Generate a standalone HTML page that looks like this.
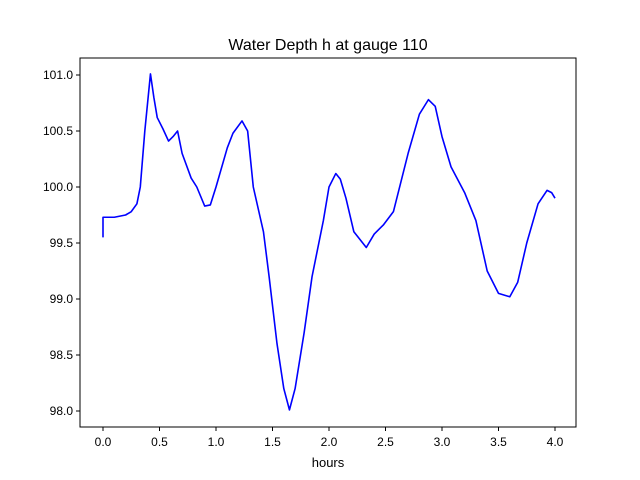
<!DOCTYPE html>
<html><head><meta charset="utf-8"><style>
html,body{margin:0;padding:0;background:#fff;}
svg{display:block;font-family:"Liberation Sans","DejaVu Sans",sans-serif;}
</style></head><body>
<svg id="chart" width="640" height="480">
<rect width="640" height="480" fill="#fff"/>
<text x="328" y="50" text-anchor="middle" font-size="16">Water Depth h at gauge 110</text>
<g id="plot"></g>
<rect x="80" y="58" width="496" height="369" fill="none" stroke="#000" stroke-width="1"/>
<text x="328" y="467" text-anchor="middle" font-size="13">hours</text>
</svg>
<script>
const xs=[0,0,0.1,0.2,0.25,0.3,0.33,0.37,0.42,0.45,0.48,0.53,0.58,0.62,0.66,0.7,0.78,0.83,0.9,0.95,1.0,1.1,1.15,1.23,1.28,1.33,1.42,1.47,1.54,1.6,1.65,1.7,1.78,1.85,1.95,2.0,2.06,2.1,2.15,2.22,2.33,2.4,2.48,2.57,2.7,2.8,2.88,2.94,3.0,3.08,3.2,3.3,3.4,3.5,3.6,3.67,3.75,3.85,3.93,3.97,4.0];
const ys=[99.55,99.73,99.73,99.75,99.78,99.85,100.0,100.5,101.01,100.8,100.62,100.52,100.41,100.45,100.5,100.3,100.08,100.0,99.83,99.84,100.0,100.35,100.48,100.59,100.5,100.0,99.6,99.2,98.6,98.2,98.01,98.2,98.7,99.2,99.7,100.0,100.12,100.07,99.9,99.6,99.46,99.58,99.66,99.78,100.3,100.65,100.78,100.72,100.45,100.18,99.95,99.7,99.25,99.05,99.02,99.15,99.5,99.85,99.97,99.95,99.9];
const xTicks=[0,0.5,1,1.5,2,2.5,3,3.5,4];
const yTicks=[98,98.5,99,99.5,100,100.5,101];
const X=v=>103+v*113;
const Y=v=>75+(101-v)*112;
const NS="http://www.w3.org/2000/svg";
const g=document.getElementById('plot');
function mk(t,a){const e=document.createElementNS(NS,t);for(const k in a)e.setAttribute(k,a[k]);g.appendChild(e);return e;}
xTicks.forEach(v=>{
 const l=mk('line',{x1:X(v),x2:X(v),y1:427,y2:431,stroke:'#000'});
 
 
 const t=mk('text',{x:X(v),y:446,'text-anchor':'middle','font-size':'12'});
 t.textContent=v.toFixed(1);
 
 
});
yTicks.forEach(v=>{
 const l=mk('line',{x1:76,x2:80,y1:Y(v),y2:Y(v),stroke:'#000'});
 
 
 const t=mk('text',{x:73,y:Y(v)+4,'text-anchor':'end','font-size':'12'});
 t.textContent=v.toFixed(1);
 
 
});
const p=mk('polyline',{points:xs.map((x,i)=>X(x)+','+Y(ys[i])).join(' '),fill:'none',stroke:'#0000ff','stroke-width':'1.6','stroke-linejoin':'round'});


</script>
</body></html>
